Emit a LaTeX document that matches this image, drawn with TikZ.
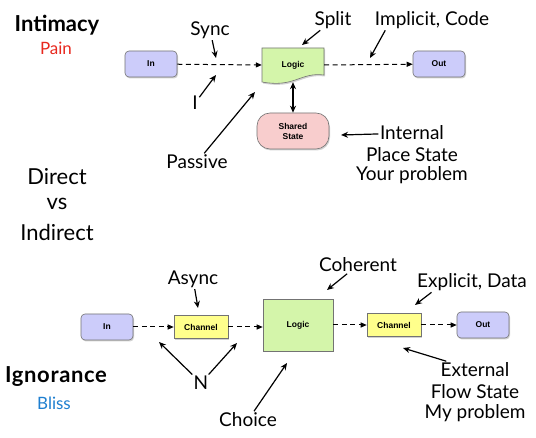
\documentclass[tikz,border=0pt]{standalone}
\usepackage{fontspec}
\setmainfont{Lato}
\newfontfamily\nodefont{Liberation Sans}
\usetikzlibrary{shadows,arrows.meta}
\definecolor{ioblue}{HTML}{CCCCFA}
\definecolor{logicgreen}{HTML}{D4F5AA}
\definecolor{chanyellow}{HTML}{FFFF8C}
\definecolor{statepink}{HTML}{F8CDCD}
\definecolor{painred}{HTML}{E8281E}
\definecolor{blissblue}{HTML}{1E7FD0}
\begin{document}
\begin{tikzpicture}[x=1pt,y=-1pt,
  shad/.style={drop shadow={opacity=0.35, shadow xshift=1pt, shadow yshift=-1.5pt}},
  boxtext/.style={inner sep=1pt, font=\nodefont\bfseries\fontsize{8.5}{10}\selectfont, align=center},
  box/.style={boxtext, draw=black!55, line width=0.6pt, shad},
  io/.style={box, rounded corners=4pt, fill=ioblue, minimum width=52pt, minimum height=26pt},
  chan/.style={box, fill=chanyellow, minimum width=54pt, minimum height=23pt},
  flow/.style={-{Triangle[length=6pt,width=5pt]}, dash pattern=on 5pt off 3.5pt, line width=1pt},
  ann/.style={-{Stealth[length=7pt,width=6pt]}, line width=1.2pt},
  lbl/.style={font=\fontsize{19}{22}\selectfont, inner sep=1.5pt},
  side/.style={font=\fontsize{22}{26}\selectfont, inner sep=1pt},
  sideb/.style={font=\bfseries\fontsize{22}{26}\selectfont, inner sep=1pt},
  sidec/.style={font=\fontsize{17}{20}\selectfont, inner sep=1pt}]
\useasboundingbox (0,0) rectangle (536,438);
\fill[white] (0,0) rectangle (536,438);

% ---------- left column ----------
\node[sideb] (intimacy) at (57,25) {Intimacy};
\node[sidec, text=painred] (pain) at (56,48) {Pain};
\node[side] (direct) at (57,177) {Direct};
\node[side] (vs) at (57,204) {vs};
\node[side] (indirect) at (57,232) {Indirect};
\node[sideb] (ignorance) at (56,377) {\addfontfeature{LetterSpace=3}Ignorance};
\node[sidec, text=blissblue] (bliss) at (54,403) {Bliss};

% ---------- top diagram ----------
\node[io] (inA) at (151,64) {In};
\node[io] (outA) at (439,64) {Out};
\path[draw=black!55, line width=0.6pt, fill=logicgreen, shad]
  (262,48) -- (324,48) -- (324,75) .. controls (300,72) and (295,88) .. (262,82) -- cycle;
\node[boxtext, minimum width=62pt, minimum height=34pt] (logA) at (293,65) {Logic};
\node[box, fill=statepink, rounded corners=13pt, minimum width=72pt, minimum height=36pt] (shared) at (293,131) {Shared\\State};

\draw[flow] (inA) -- (logA.west);
\draw[flow] (logA.east) -- (outA);
\draw[{Stealth[length=7pt,width=6pt]}-{Stealth[length=7pt,width=6pt]}, line width=1.2pt] (logA.south) -- (shared.north);

\node[lbl] (sync) at (210,30) {Sync};
\coordinate (syncT) at (216,58);
\draw[ann] (sync) -- (syncT);
\node[lbl] (iA) at (195,103) {I};
\coordinate (iT) at (216,75);
\draw[ann] (iA) -- (iT);
\node[lbl] (passive) at (197,162) {Passive};
\coordinate (passiveT) at (255,92);
\draw[ann] (passive) -- (passiveT);
\node[lbl] (split) at (333,20) {Split};
\coordinate (splitT) at (302,45);
\draw[ann] (split) -- (splitT);
\node[lbl] (implicit) at (432,20) {Implicit, Code};
\coordinate (implicitT) at (370,58);
\path (implicit.south west) ++(12,0) coordinate (implicitS);
\draw[ann] (implicitS) -- (implicitT);
\node[lbl] (intl1) at (412,133) {Internal};
\node[lbl] (intl2) at (412,155) {Place State};
\node[lbl] (intl3) at (412,175) {Your problem};
\coordinate (intlT) at (341,135);
\draw[ann] (intl1) -- (intlT);

% ---------- bottom diagram ----------
\node[io] (inB) at (107,327) {In};
\node[chan] (ch1) at (201,327) {Channel};
\node[box, fill=logicgreen, minimum width=70pt, minimum height=52pt] (logB) at (298,325) {Logic};
\node[chan] (ch2) at (394,325) {Channel};
\node[io] (outB) at (483,325) {Out};

\draw[flow] (inB) -- (ch1);
\draw[flow] (ch1) -- (ch1 -| logB.west);
\draw[flow] (logB.east |- ch2) -- (ch2);
\draw[flow] (ch2) -- (outB.west |- ch2);

\node[lbl] (async) at (193,279) {Async};
\coordinate (asyncT) at (198,308);
\draw[ann] (async) -- (asyncT);
\node[lbl] (nB) at (201,383) {N};
\coordinate (nT1) at (159,342);
\coordinate (nT2) at (237,343);
\draw[ann] (nB) -- (nT1);
\draw[ann] (nB) -- (nT2);
\node[lbl] (coherent) at (358,265) {Coherent};
\coordinate (coherentT) at (327,290);
\draw[ann] (coherent) -- (coherentT);
\node[lbl] (explicit) at (472,282) {Explicit, Data};
\coordinate (explicitT) at (415,305);
\path (explicit.south west) ++(16,0) coordinate (explicitS);
\draw[ann] (explicitS) -- (explicitT);
\node[lbl] (ext1) at (475,370) {External};
\node[lbl] (ext2) at (475,392) {Flow State};
\node[lbl] (ext3) at (475,413) {My problem};
\coordinate (extT) at (403,348);
\draw[ann] (ext1) -- (extT);
\node[lbl] (choice) at (248,420) {Choice};
\coordinate (choiceT) at (287,363);
\draw[ann] (choice) -- (choiceT);
\end{tikzpicture}
\end{document}
